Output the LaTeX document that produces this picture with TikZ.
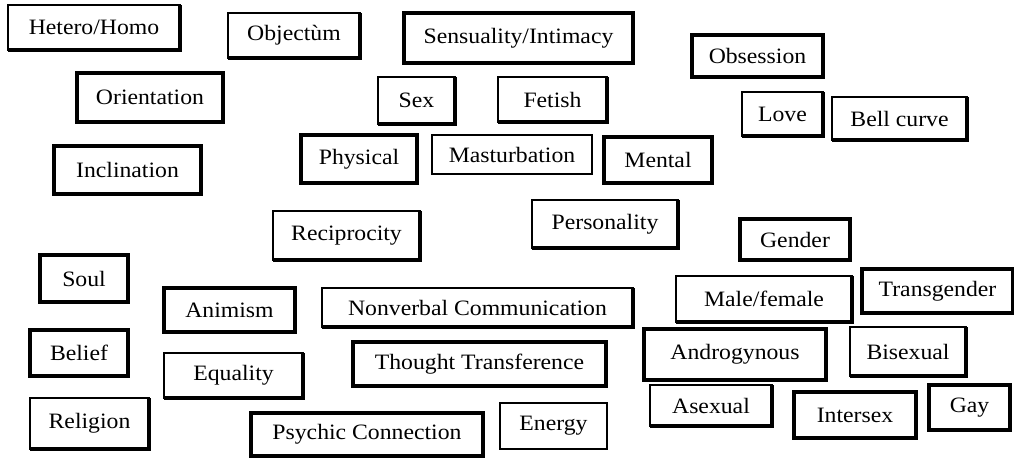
\documentclass[tikz,border=0pt]{standalone}
\usepackage{fontspec}
\setmainfont{Liberation Serif}[FakeStretch=1.08]
\usepackage{tikz}
\usetikzlibrary{calc}
\tikzset{
	word/.style={inner sep=0pt, font=\fontsize{12.5}{14}\selectfont},
	plainbox/.style={line width=1pt},
	shadebox/.style={line width=1pt},
	heavybox/.style={line width=1.9pt}
}
\def\wordbox[#1](#2,#3)(#4,#5)#6#7{\draw[#1] (#2,#3) rectangle (#4,#5); \node[word] (#6) at ({(#2+#4)/2},{(#3+#5)/2}) {#7};}
\def\shadebox(#1,#2)(#3,#4)#5#6{\wordbox[shadebox](#1,#2)(#3,#4){#5}{#6}\draw[line width=2pt] (#1,#4) -- (#3,#4) -- (#3,#2);}

\begin{document}
\begin{tikzpicture}[x=0.02cm, y=-0.02cm]
		%%%%% START %%%%%
		\useasboundingbox (0, 0) rectangle (1014, 457);
		
		\shadebox(8, 5)(180, 50){hetero}{Hetero/Homo}
		\shadebox(228, 13)(360, 58){objectum}{Objectùm}
		\wordbox[heavybox](404, 13)(633, 63){sensuality}{Sensuality/Intimacy}
		\wordbox[heavybox](692, 35)(823, 77){obsession}{Obsession}
		
		\wordbox[heavybox](77, 73)(223, 122){orientation}{Orientation}
		\shadebox(378, 77)(455, 124){sex}{Sex}
		\shadebox(498, 77)(607, 122){fetish}{Fetish}
		\shadebox(742, 92)(823, 136){love}{Love}
		\shadebox(832, 97)(967, 140){bellcurve}{Bell curve}
		
		\wordbox[heavybox](54, 146)(201, 194){inclination}{Inclination}
		\wordbox[heavybox](301, 135)(417, 183){physical}{Physical}
		\wordbox[plainbox](432, 135)(592, 174){masturbation}{Masturbation}
		\wordbox[heavybox](604, 137)(712, 183){mental}{Mental}
		
		\shadebox(273, 211)(420, 260){reciprocity}{Reciprocity}
		\shadebox(532, 200)(678, 248){personality}{Personality}
		\wordbox[heavybox](740, 219)(850, 260){gender}{Gender}
		
		\wordbox[heavybox](40, 255)(128, 302){soul}{Soul}
		\wordbox[heavybox](164, 288)(295, 332){animism}{Animism}
		\shadebox(322, 288)(633, 327){nonverbal}{Nonverbal Communication}
		\shadebox(676, 276)(852, 322){malefemale}{Male/female}
		\wordbox[heavybox](862, 269)(1013, 313){transgender}{Transgender}
		
		\wordbox[heavybox](30, 330)(128, 376){belief}{Belief}
		\shadebox(164, 353)(303, 398){equality}{Equality}
		\wordbox[heavybox](353, 342)(606, 386){thought}{Thought Transference}
		\wordbox[heavybox](644, 329)(826, 380){androgynous}{Androgynous}
		\shadebox(850, 327)(966, 376){bisexual}{Bisexual}
		
		\shadebox(30, 398)(149, 449){religion}{Religion}
		\wordbox[heavybox](251, 413)(483, 456){psychic}{Psychic Connection}
		\wordbox[plainbox](500, 403)(607, 449){energy}{Energy}
		\shadebox(650, 385)(772, 426){asexual}{Asexual}
		\wordbox[heavybox](794, 392)(916, 438){intersex}{Intersex}
		\wordbox[heavybox](929, 385)(1010, 430){gay}{Gay}
		%%%%% END %%%%%
\end{tikzpicture}
\end{document}
